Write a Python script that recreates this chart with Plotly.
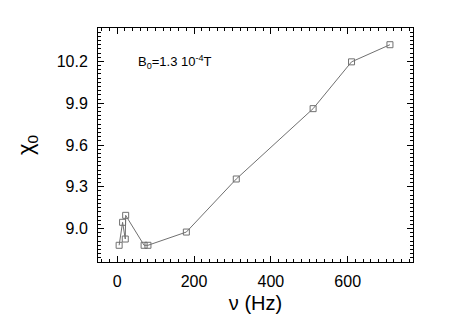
import plotly.graph_objects as go

# frequency (Hz) and susceptibility chi_0
freq = [5, 14, 21, 22, 70, 80, 180, 310, 510, 610, 710]
chi0 = [8.88, 9.045, 8.925, 9.095, 8.88, 8.88, 8.975, 9.356, 9.861, 10.197, 10.32]

x_ticks = [0, 200, 400, 600]
y_ticks = [9.0, 9.3, 9.6, 9.9, 10.2]
y_labels = ["9.0", "9.3", "9.6", "9.9", "10.2"]

FONT = "Liberation Sans, Arial, Helvetica, sans-serif"
GREY = "#707070"

fig = go.Figure()
fig.add_trace(go.Scatter(
    x=freq, y=chi0, mode="lines+markers",
    line=dict(color=GREY, width=1),
    marker=dict(symbol="square-open", size=6, color=GREY, line=dict(width=1)),
    showlegend=False,
))

axis_common = dict(
    showline=True, linecolor="black", linewidth=1, mirror="allticks",
    ticks="inside", ticklen=6, tickcolor="black", tickwidth=1,
    showgrid=False, zeroline=False, automargin=False,
    tickfont=dict(family=FONT, size=16, color="black"),
)
fig.update_xaxes(
    range=[-50, 770], tickvals=x_ticks, ticklabelstandoff=5,
    minor=dict(ticks="inside", ticklen=3, dtick=20, tick0=0, tickcolor="black"),
    title=dict(text="ν (Hz)", font=dict(family=FONT, size=20, color="black"), standoff=6),
    **axis_common,
)
fig.update_yaxes(
    range=[8.76, 10.44], tickvals=y_ticks, ticktext=y_labels, ticklabelstandoff=6,
    minor=dict(ticks="inside", ticklen=3, dtick=0.03, tick0=9.0, tickcolor="black"),
    title=dict(text="χ<sub>0</sub>", font=dict(family=FONT, size=22, color="black"), standoff=16),
    **axis_common,
)

fig.add_annotation(
    x=0.12, y=0.855, xref="paper", yref="paper", xanchor="left", yanchor="middle",
    text="B<sub>0</sub>=1.3 10<sup>-4</sup>T", showarrow=False,
    font=dict(family=FONT, size=13, color="black"),
)

# the page body adds an 8px offset, so margins are shifted to keep the frame in place
fig.update_layout(
    width=463, height=327,
    margin=dict(l=90, r=58, t=20, b=73),
    plot_bgcolor="white", paper_bgcolor="white",
)

fig.write_html("out.html")
